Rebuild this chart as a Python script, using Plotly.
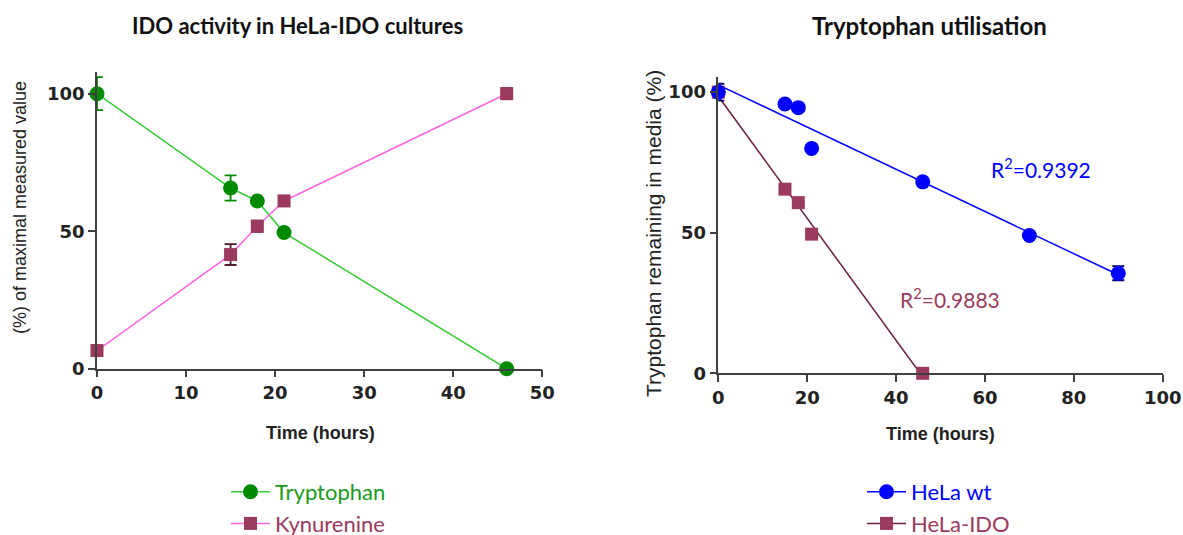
import numpy as np
import plotly.graph_objects as go

# ---- IDO activity in HeLa-IDO cultures ----
time_ido = [0, 15, 18, 21, 46]
trp_pct = [100, 65.7, 61, 49.5, 0]
trp_err = [6, 4.6, 0, 0, 0]
kyn_pct = [6.6, 41.5, 51.8, 61, 100]
kyn_err = [0, 3.8, 2, 0, 2]

# ---- Tryptophan utilisation ----
time_wt = [0, 15, 18, 21, 46, 70, 90]
trp_wt = [100, 95.8, 94.5, 80, 68.1, 49, 35.6]
trp_wt_err = [3, 0, 0, 0, 0, 0, 2.5]
time_hido = [0, 15, 18, 21, 46]
trp_hido = [100, 65.5, 60.7, 49.5, 0]
trp_hido_err = [1.5, 0, 0, 0, 0]
r2_wt = "0.9392"
r2_hido = "0.9883"

GREEN_M = "#008a00"
GREEN_L = "#33cc33"
PINK_L = "#ff66e0"
MAROON = "#9b3a5e"
MAROON_D = "#6b1f3a"
BLUE = "#0000ff"
NAVY = "#00006e"
AXIS = "#404040"

W, H = 1183, 535
TXT = "Lato"

fig = go.Figure()

# left panel
fig.add_trace(go.Scatter(
    x=time_ido, y=trp_pct, mode="lines+markers",
    name="<span style='color:#1a9a1a'>Tryptophan</span>",
    line=dict(color=GREEN_L, width=1.5),
    marker=dict(symbol="circle", size=15, color=GREEN_M),
    error_y=dict(type="data", array=trp_err, color=GREEN_M, thickness=1.8, width=6),
    cliponaxis=False, legend="legend", xaxis="x", yaxis="y"))
fig.add_trace(go.Scatter(
    x=time_ido, y=kyn_pct, mode="lines+markers",
    name=f"<span style='color:{MAROON}'>Kynurenine</span>",
    line=dict(color=PINK_L, width=1.5),
    marker=dict(symbol="square", size=13, color=MAROON),
    error_y=dict(type="data", array=kyn_err, color="#5a1530", thickness=1.8, width=6),
    cliponaxis=False, legend="legend", xaxis="x", yaxis="y"))

# right panel: linear fits drawn from the data
def fit_line(x, y):
    slope, intercept = np.polyfit(x, y, 1)
    xs = np.array([min(x), max(x)], dtype=float)
    return xs, intercept + slope * xs

fx, fy = fit_line(time_wt, trp_wt)
fig.add_trace(go.Scatter(x=fx, y=fy, mode="lines", line=dict(color=BLUE, width=1.5),
                         showlegend=False, xaxis="x2", yaxis="y2", hoverinfo="skip"))
fx, fy = fit_line(time_hido, trp_hido)
fig.add_trace(go.Scatter(x=fx, y=fy, mode="lines", line=dict(color=MAROON_D, width=1.5),
                         showlegend=False, xaxis="x2", yaxis="y2", hoverinfo="skip"))

fig.add_trace(go.Scatter(
    x=time_hido, y=trp_hido, mode="markers", showlegend=False,
    marker=dict(symbol="square", size=13, color=MAROON),
    error_y=dict(type="data", array=trp_hido_err, color="#c0508a", thickness=1.8, width=6),
    cliponaxis=False, xaxis="x2", yaxis="y2"))
fig.add_trace(go.Scatter(
    x=time_wt, y=trp_wt, mode="markers", showlegend=False,
    marker=dict(symbol="circle", size=15, color=BLUE),
    error_y=dict(type="data", array=trp_wt_err, color=NAVY, thickness=1.8, width=6),
    cliponaxis=False, xaxis="x2", yaxis="y2"))

# legend entries for the right panel
fig.add_trace(go.Scatter(
    x=[None], y=[None], mode="lines+markers",
    name=f"<span style='color:{BLUE}'>HeLa wt</span>",
    line=dict(color=BLUE, width=1.5), marker=dict(symbol="circle", size=15, color=BLUE),
    legend="legend2", xaxis="x2", yaxis="y2"))
fig.add_trace(go.Scatter(
    x=[None], y=[None], mode="lines+markers",
    name=f"<span style='color:{MAROON}'>HeLa-IDO</span>",
    line=dict(color=MAROON_D, width=1.5), marker=dict(symbol="square", size=13, color=MAROON),
    legend="legend2", xaxis="x2", yaxis="y2"))

tickfont = dict(family="DejaVu Sans", size=18, color="#222222", weight="bold")
common_axis = dict(showline=True, linecolor=AXIS, linewidth=1.5, ticks="outside",
                   ticklen=7, tickwidth=1.5, tickcolor=AXIS, showgrid=False,
                   zeroline=False, tickfont=tickfont, fixedrange=True, automargin=False)

fig.update_layout(
    width=W, height=H,
    margin=dict(l=0, r=0, t=0, b=0, autoexpand=False),
    plot_bgcolor="white", paper_bgcolor="white",
    xaxis=dict(domain=[97 / W, 542.3 / W], range=[0, 50], tickvals=[0, 10, 20, 30, 40, 50],
               anchor="y", **common_axis),
    yaxis=dict(domain=[1 - 368.7 / H, 1 - 71.7 / H], range=[0, 108], tickvals=[0, 50, 100],
               anchor="x", **common_axis),
    xaxis2=dict(domain=[718.3 / W, 1162.7 / W], range=[0, 100], tickvals=[0, 20, 40, 60, 80, 100],
                anchor="y2", **common_axis),
    yaxis2=dict(domain=[1 - 373.3 / H, 1 - 76.7 / H], range=[0, 105.5], tickvals=[0, 50, 100],
                anchor="x2", **common_axis),
    legend=dict(x=226 / W, y=1 - 471 / H, xanchor="left", yanchor="top",
                font=dict(family=TXT, size=22), bgcolor="rgba(0,0,0,0)",
                itemwidth=39, tracegroupgap=0),
    legend2=dict(x=862 / W, y=1 - 471 / H, xanchor="left", yanchor="top",
                 font=dict(family=TXT, size=22), bgcolor="rgba(0,0,0,0)",
                 itemwidth=39, tracegroupgap=0),
    showlegend=True,
)

title_font = dict(family=TXT, color="#111111")
xtitle_font = dict(family="Liberation Sans", size=18, color="#222222", weight="bold")
annotations = [
    dict(text="<b>IDO activity in HeLa-IDO cultures</b>", x=297.5 / W, y=1 - 25 / H,
         xref="paper", yref="paper", showarrow=False, xanchor="center", yanchor="middle",
         font=dict(size=22, **title_font)),
    dict(text="<b>Tryptophan utilisation</b>", x=929 / W, y=1 - 25 / H,
         xref="paper", yref="paper", showarrow=False, xanchor="center", yanchor="middle",
         font=dict(size=24, **title_font)),
    # axis titles
    dict(text="Time (hours)", x=320 / W, y=1 - 433 / H, xref="paper", yref="paper",
         showarrow=False, xanchor="center", yanchor="middle", font=xtitle_font),
    dict(text="Time (hours)", x=940 / W, y=1 - 434 / H, xref="paper", yref="paper",
         showarrow=False, xanchor="center", yanchor="middle", font=xtitle_font),
    dict(text="(%) of maximal measured value", x=20 / W, y=1 - 208 / H,
         xref="paper", yref="paper", showarrow=False, textangle=-90,
         xanchor="center", yanchor="middle",
         font=dict(family="Liberation Sans", size=18, color="#222222")),
    dict(text="Tryptophan remaining in media (%)", x=653 / W, y=1 - 234 / H,
         xref="paper", yref="paper", showarrow=False, textangle=-90,
         xanchor="center", yanchor="middle",
         font=dict(family="Liberation Sans", size=21, color="#222222")),
    # goodness of fit labels
    dict(text=f"R<sup>2</sup>={r2_wt}", x=72.6, y=73.1, xref="x2", yref="y2",
         showarrow=False, font=dict(family=TXT, size=21, color=BLUE)),
    dict(text=f"R<sup>2</sup>={r2_hido}", x=52.1, y=26.8, xref="x2", yref="y2",
         showarrow=False, font=dict(family=TXT, size=21, color=MAROON)),
]
fig.update_layout(annotations=annotations)

fig.write_html("out.html")
